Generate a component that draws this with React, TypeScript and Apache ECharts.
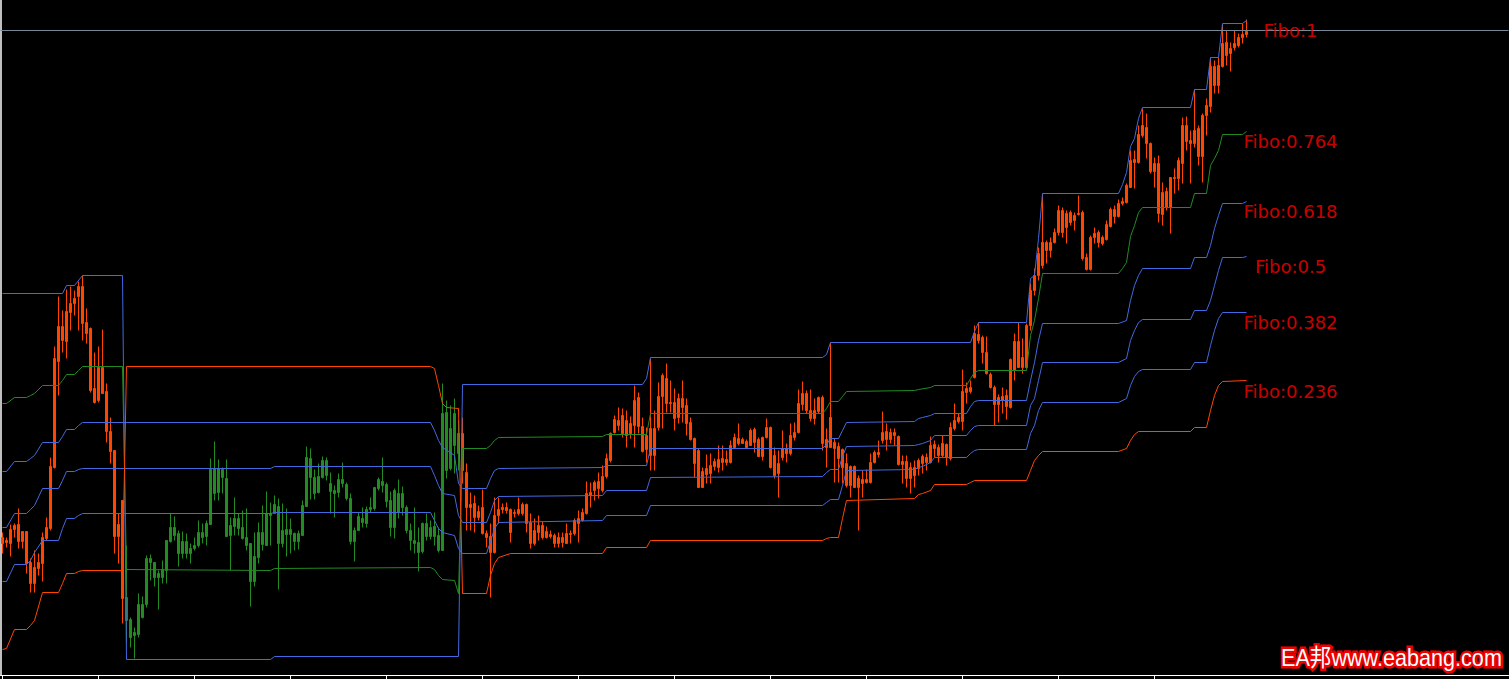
import React, { useEffect, useRef } from "react";
import * as echarts from "echarts";

// Chart units are read top-down from the picture (the value axis is inverted).
const SLOT_COUNT = 377; // bar slots including the empty right margin
const ORANGE = "#FF4500";
const GREEN = "#228B22";
const BLUE = "#4169E1";

// [bodyTop, bodyBottom, wickTop, wickBottom] per bar
const candles: number[][] = [
  [537,543,532,553],[540,542,537,547],[529,543,524,556],[525,529,523,537],[524,541,508,548],
  [531,541,531,548],[531,563,531,573],[562,583,558,592],[567,583,550,592],[562,568,553,575],
  [537,563,532,581],[527,538,517,540],[466,528,457,530],[358,467,346,468],[326,361,296,395],
  [326,340,310,352],[311,341,289,358],[303,312,286,330],[298,303,290,315],[286,296,281,330],
  [286,323,275,340],[322,333,308,343],[328,390,327,392],[388,402,352,403],[367,400,346,402],
  [367,393,329,393],[391,431,383,442],[431,451,417,463],[450,536,450,553],[524,536,513,563],
  [500,598,500,623],
  // 31..114
  [597,620,545,642],[619,637,617,647],[632,635,627,658],[604,634,593,637],[604,617,596,618],
  [558,604,555,607],[558,562,554,580],[562,577,562,586],[573,577,570,609],[569,577,560,583],
  [540,570,540,583],[527,541,513,542],[527,535,516,540],[533,553,530,566],[541,553,531,558],
  [541,553,533,558],[548,553,543,563],[545,548,537,550],[532,545,520,547],[532,537,523,543],
  [523,536,520,545],[469,524,458,524],[468,493,441,500],[468,492,459,500],[469,477,467,493],
  [478,536,459,536],[525,535,517,570],[518,526,497,535],[518,528,513,535],[527,538,510,539],
  [537,545,508,550],[543,581,543,606],[556,581,532,586],[532,557,522,563],[532,544,505,550],
  [513,545,491,545],[513,515,502,545],[504,513,495,513],[506,543,498,589],[530,543,503,547],
  [529,534,508,556],[529,534,518,553],[533,541,532,550],[533,541,530,549],[505,535,500,535],
  [457,506,446,506],[458,477,448,499],[477,493,469,499],[476,492,463,493],[460,477,456,478],
  [460,475,457,480],[483,491,472,513],[490,493,485,517],[479,492,473,497],[479,483,462,487],
  [484,498,482,500],[498,541,493,544],[530,541,527,561],[516,530,512,530],[518,522,507,527],
  [509,523,506,527],[507,509,497,512],[487,508,487,510],[479,488,477,490],[481,485,457,492],
  [484,501,482,507],[500,527,491,536],[490,527,488,538],[493,512,479,518],[493,507,486,515],
  [507,530,505,533],[530,540,523,550],[540,543,507,553],[542,552,527,571],[523,551,522,553],
  [523,536,513,540],[527,536,520,539],[526,536,512,545],[535,550,527,552],[413,550,383,550],
  [412,470,400,478],[428,468,405,470],[413,445,398,473],[433,453,420,470],
  // 115..311
  [433,470,417,483],[472,507,463,530],[504,507,492,530],[503,517,495,532],[511,517,505,520],
  [507,533,489,534],[533,537,530,547],[536,552,523,597],[515,552,497,553],[509,515,497,523],
  [507,509,503,513],[507,510,502,513],[509,532,508,542],[512,513,509,517],[509,513,497,515],
  [504,513,502,515],[504,523,503,532],[522,543,513,548],[530,543,518,545],[525,532,515,540],
  [525,537,521,539],[531,537,526,538],[534,536,530,538],[535,543,533,547],[537,543,532,547],
  [537,542,532,547],[533,543,523,543],[533,534,530,543],[520,533,518,535],[518,523,510,542],
  [512,520,508,521],[493,513,481,514],[492,495,482,507],[482,490,480,500],[481,488,472,498],
  [476,490,465,492],[458,476,453,478],[433,460,432,462],[419,432,415,433],[420,425,407,430],
  [415,433,408,437],[420,435,410,447],[423,433,416,438],[400,425,385,447],[397,426,392,433],
  [426,451,417,452],[435,449,427,462],[428,455,358,470],[428,455,410,470],[396,427,382,430],
  [375,396,373,428],[378,403,363,412],[402,403,380,412],[402,418,388,430],[398,417,393,423],
  [398,407,380,422],[405,423,398,435],[422,439,417,440],[438,463,437,477],[450,487,448,487],
  [471,487,467,487],[468,474,454,483],[465,473,453,483],[461,466,458,470],[459,467,445,472],
  [458,462,445,470],[459,462,450,465],[445,462,440,463],[437,447,433,448],[438,443,423,445],
  [439,443,437,443],[441,447,439,448],[430,445,428,445],[429,442,427,452],[439,456,437,456],
  [437,456,436,460],[427,437,418,438],[427,467,426,468],[455,475,447,478],[463,473,450,497],
  [448,457,430,460],[448,453,443,462],[435,453,423,455],[432,437,422,440],[403,432,389,433],
  [393,404,381,410],[393,410,390,413],[410,418,389,421],[410,418,398,424],[397,411,396,413],
  [397,443,395,450],[439,447,428,467],[417,447,342,447],[442,448,438,482],[446,458,442,482],
  [449,467,448,483],[463,485,453,487],[466,485,465,497],[466,487,465,487],[478,487,475,530],
  [479,483,470,497],[479,482,469,483],[462,482,453,483],[452,462,450,463],[452,454,440,457],
  [432,440,411,443],[431,439,423,450],[432,439,428,443],[432,435,428,445],[436,464,435,465],
  [461,464,455,483],[461,478,455,487],[467,478,462,493],[467,475,460,487],[460,468,458,475],
  [456,463,454,473],[457,462,453,470],[445,462,436,463],[444,448,440,457],[447,455,444,462],
  [443,455,435,457],[444,457,443,465],[427,458,422,460],[420,428,403,430],[417,421,413,423],
  [391,421,369,430],[388,392,382,403],[387,391,380,393],[333,377,325,378],[334,340,322,343],
  [337,352,335,363],[352,373,336,374],[374,387,372,388],[387,404,385,425],[397,404,394,422],
  [396,400,387,413],[395,406,389,419],[359,407,358,408],[341,370,333,380],[341,367,322,367],
  [357,367,338,373],[325,367,323,368],[290,325,283,330],[275,290,268,295],[253,275,247,280],
  [242,265,193,268],[242,250,240,263],[242,250,237,257],[232,242,228,243],[210,232,205,235],
  [210,232,207,237],[213,227,210,243],[212,222,210,225],[215,220,212,230],[213,214,195,215],
  [212,258,210,260],[257,269,253,270],[237,269,235,270],[233,237,227,243],[232,242,230,247],
  [237,243,235,245],[224,239,220,240],[209,226,207,227],[209,216,205,223],[203,216,199,217],
  [201,203,197,205],[185,202,183,203],[160,187,150,187],[159,162,150,188],[134,162,125,163],
  [125,135,108,137],[127,143,113,158],[143,171,142,173],[163,171,157,187],[163,213,155,222],
  [192,214,182,225],[191,207,187,210],[177,207,177,233],[177,178,168,193],[160,178,157,190],
  [125,163,117,183],[125,141,116,150],[140,143,130,183],[130,143,89,147],[128,156,125,165],
  [115,156,113,182],[105,115,98,135],[66,106,57,112],[66,85,60,93],[65,85,57,93],
  [43,66,24,67],[42,55,30,65],[48,53,42,71],[43,47,30,50],[37,45,33,47],
  [34,37,23,43],[31,34,19,37],
];

// bars painted green (indicator trend), inclusive range
const greenBars = [31, 114];

// Fibo indicator lines: [barIndex, level]
const topLine: number[][] = [
  [0,293],[15,293],[16,285],[18,285],[20,275],[30,275],[31,659],[67,659],[68,656],[114,656],
  [115,384],[160,384],[161,378],[162,357],[205,357],[206,354],[207,342],[242,342],[243,331],
  [244,322],[256,322],[257,278],[258,275],[259,238],[260,193],[279,193],[280,184],[281,172],
  [282,146],[283,138],[284,118],[285,107],[297,107],[298,89],[301,89],[302,57],[304,57],
  [305,23],[310,23],[311,20],
];
const greenLine: number[][] = [
  [0,403],[1,403],[3,397],[6,397],[7,395],[8,393],[10,385],[14,385],[15,380],[16,374],[18,374],
  [19,370],[20,366],[30,366],[31,569],[67,570],[68,568],[107,567],[108,569],[109,575],[110,579],
  [113,580],[114,593],[115,448],[121,448],[122,445],[123,440],[124,437],[150,436],[151,434],
  [161,434],[162,413],[205,413],[206,408],[207,401],[209,401],[210,396],[211,391],[228,390],
  [229,389],[232,387],[233,385],[241,385],[242,378],[243,372],[244,370],[256,370],[257,335],
  [258,320],[259,298],[260,273],[279,273],[280,268],[281,262],[282,236],[283,225],[284,212],
  [285,207],[297,207],[298,193],[301,193],[302,165],[303,158],[304,150],[305,134],[310,134],
  [311,131],
];
const fib618Line: number[][] = [
  [0,471],[1,471],[3,461],[6,461],[7,458],[8,455],[10,442],[14,442],[15,436],[16,429],[18,429],
  [19,425],[20,422],[107,422],[108,430],[109,440],[110,447],[112,452],[113,455],[114,483],
  [115,488],[121,488],[122,478],[123,470],[124,468],[150,467],[151,465],[161,465],[162,448],
  [205,448],[206,444],[207,438],[209,438],[210,430],[211,422],[228,421],[229,418],[230,417],
  [232,415],[233,413],[241,413],[242,406],[243,401],[244,400],[256,400],[257,380],[258,362],
  [259,340],[260,323],[279,323],[281,320],[282,300],[283,285],[284,275],[285,268],[297,268],
  [298,257],[301,257],[302,245],[303,228],[304,215],[305,203],[310,203],[311,201],
];
const fib500Line: number[][] = [
  [0,527],[1,527],[3,513],[6,513],[7,509],[8,505],[10,488],[14,488],[15,480],[16,471],[18,471],
  [19,469],[20,468],[67,468],[68,466],[107,466],[108,475],[109,485],[110,493],[113,495],
  [114,515],[115,522],[121,522],[122,512],[123,500],[124,496],[150,495],[151,490],[161,490],
  [162,477],[205,476],[206,472],[207,469],[209,469],[210,456],[211,446],[228,445],[229,444],
  [230,443],[232,440],[233,435],[241,435],[242,430],[243,426],[244,425],[256,425],[257,405],
  [258,398],[259,380],[260,362],[279,362],[281,358],[282,340],[283,330],[284,322],[285,319],
  [297,319],[298,310],[301,310],[302,300],[303,285],[304,270],[305,257],[310,257],[311,256],
];
const fib382Line: number[][] = [
  [0,581],[1,581],[3,564],[6,564],[7,560],[8,552],[10,540],[14,540],[15,528],[16,518],[18,518],
  [19,515],[20,513],[67,513],[68,512],[107,512],[108,520],[109,528],[110,532],[113,535],
  [114,548],[115,553],[121,553],[122,541],[123,528],[124,522],[150,520],[151,515],[161,515],
  [162,505],[205,505],[206,502],[207,499],[209,499],[210,485],[211,470],[228,469],[229,467],
  [230,466],[232,462],[233,457],[241,457],[242,453],[243,450],[244,449],[256,449],[257,433],
  [258,425],[259,410],[260,402],[279,402],[281,398],[282,385],[283,376],[284,371],[285,369],
  [297,369],[298,362],[301,362],[302,345],[303,330],[304,318],[305,312],[311,312],
];
const orangeLine: number[][] = [
  [0,649],[1,648],[3,629],[6,629],[7,625],[8,620],[10,592],[14,592],[15,583],[16,573],[18,573],
  [19,571],[20,570],[30,570],[31,366],[107,366],[108,368],[109,385],[110,403],[111,407],
  [114,408],[115,593],[121,593],[122,575],[123,563],[124,557],[127,553],[150,553],[151,547],
  [161,547],[162,540],[205,540],[206,538],[207,537],[209,537],[210,518],[211,500],[228,498],
  [229,494],[230,493],[232,490],[233,484],[241,484],[242,482],[243,480],[256,480],[257,470],
  [258,460],[259,455],[260,451],[279,451],[281,448],[282,440],[283,434],[284,431],[297,431],
  [298,427],[301,427],[302,410],[303,395],[304,385],[305,381],[311,380],
];

const askLevel = 30;
const fiboNames = ["Fibo:1", "Fibo:0.764", "Fibo:0.618", "Fibo:0.5", "Fibo:0.382", "Fibo:0.236"];
const fiboLabelLevels = [30, 141, 211, 266, 322, 391];
const fiboLabelSlot = 322;
const tickEvery = 24;
const lastTickSlot = 288;
const watermark = "EA邦www.eabang.com";

export default function App() {
  const ref = useRef<HTMLDivElement>(null);
  useEffect(() => {
    if (!ref.current) return;
    document.body.style.background = "#000";
    const chart = echarts.init(ref.current, null, { renderer: "svg" });
    const slots = Array.from({ length: SLOT_COUNT }, (_, i) => String(i));
    const isGreen = (i: number) => i >= greenBars[0] && i <= greenBars[1];
    const toItem = (c: number[]) => [c[0], c[1], c[2], c[3]];
    const orangeData = candles.map((c, i) => (isGreen(i) ? "-" : toItem(c)));
    const greenData = candles.map((c, i) => (isGreen(i) ? toItem(c) : "-"));
    const candleStyle = (col: string) => ({
      color: col, color0: col, borderColor: col, borderColor0: col, borderWidth: 1,
    });
    const lineSeries = (data: number[][], color: string, extra: any = {}) => ({
      type: "line",
      data,
      showSymbol: false,
      symbol: "none",
      silent: true,
      z: 3,
      lineStyle: { color, width: 1 },
      ...extra,
    });
    chart.setOption({
      animation: false,
      backgroundColor: "#000",
      grid: { left: 0.5, right: 0.5, top: 0, bottom: 4 },
      xAxis: {
        type: "category",
        data: slots,
        boundaryGap: true,
        position: "bottom",
        axisLine: { show: true, onZero: false, lineStyle: { color: "#ffffff", width: 1 } },
        axisTick: {
          show: true,
          alignWithLabel: true,
          length: 4,
          interval: (idx: number) => idx % tickEvery === 0 && idx <= lastTickSlot,
          lineStyle: { color: "#ffffff" },
        },
        axisLabel: { show: false },
        splitLine: { show: false },
      },
      yAxis: {
        type: "value",
        inverse: true,
        min: -0.5,
        max: 674.5,
        axisLine: { show: true, lineStyle: { color: "#ffffff", width: 1.5 } },
        axisTick: { show: false },
        axisLabel: { show: false },
        splitLine: { show: false },
      },
      series: [
        {
          type: "candlestick",
          data: orangeData,
          barWidth: 3,
          silent: true,
          itemStyle: candleStyle(ORANGE),
        },
        {
          type: "candlestick",
          data: greenData,
          barWidth: 3,
          silent: true,
          itemStyle: candleStyle(GREEN),
        },
        lineSeries(topLine, BLUE, {
          markLine: {
            silent: true,
            symbol: ["none", "none"],
            label: { show: false },
            lineStyle: { color: "#778899", width: 1, type: "solid" },
            data: [{ yAxis: askLevel }],
          },
        }),
        lineSeries(greenLine, GREEN),
        lineSeries(fib618Line, BLUE),
        lineSeries(fib500Line, BLUE),
        lineSeries(fib382Line, BLUE),
        lineSeries(orangeLine, ORANGE),
        {
          type: "scatter",
          symbolSize: 0,
          silent: true,
          z: 5,
          data: fiboNames.map((n, k) => ({ name: n, value: [fiboLabelSlot, fiboLabelLevels[k]] })),
          label: {
            show: true,
            position: "inside",
            formatter: (p: any) => p.name,
            color: "#ff0000",
            fontSize: 18,
            fontFamily: "DejaVu Sans",
            align: "center",
            verticalAlign: "middle",
          },
        },
      ],
      graphic: [
        {
          type: "text",
          x: 1281,
          y: 658,
          scaleX: 0.9,
          silent: true,
          style: {
            text: watermark,
            fill: "#e00000",
            stroke: "#ee0000",
            lineWidth: 5,
            font: "24px 'Liberation Sans', 'Noto Sans CJK SC', sans-serif",
            verticalAlign: "middle",
          },
        },
        {
          type: "text",
          x: 1281,
          y: 658,
          scaleX: 0.9,
          silent: true,
          style: {
            text: watermark,
            fill: "#ffffff",
            font: "24px 'Liberation Sans', 'Noto Sans CJK SC', sans-serif",
            verticalAlign: "middle",
          },
        },
      ],
    });
    return () => chart.dispose();
  }, []);
  return (
    <div
      ref={ref}
      style={{ position: "fixed", left: 0, top: 0, width: 1509, height: 679, background: "#000" }}
    />
  );
}
